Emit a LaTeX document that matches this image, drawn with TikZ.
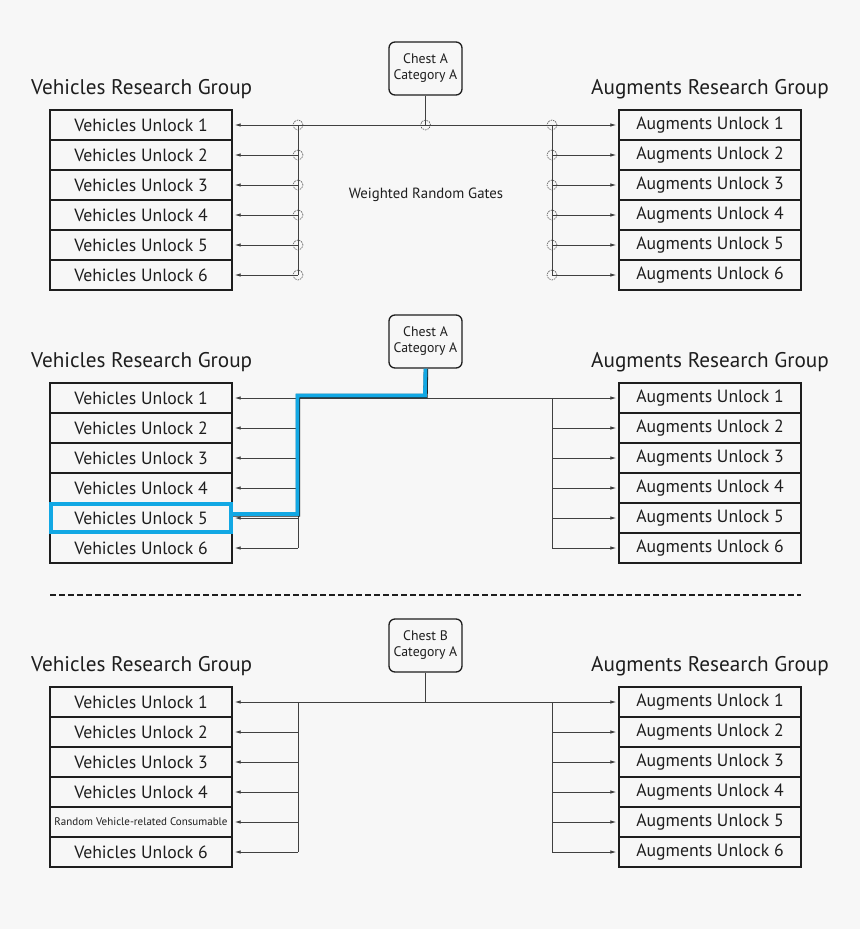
\documentclass[tikz,border=0pt]{standalone}
\usepackage{fontspec}
\setmainfont{PT Sans}
\usetikzlibrary{arrows.meta}
\definecolor{bg}{HTML}{F7F7F7}
\definecolor{ink}{HTML}{1E1E1E}
\definecolor{hl}{HTML}{12A8E4}
\tikzset{
  ubox/.style={draw=ink, line width=1.4pt, minimum width=182pt, minimum height=30pt, inner sep=0pt, text=ink, font=\fontsize{17.7}{19}\selectfont},
  gtitle/.style={font=\fontsize{21.2}{24}\selectfont, inner sep=0pt, text=ink},
  chestbox/.style={draw=ink, line width=1.3pt, rounded corners=6pt, minimum width=73pt, minimum height=53pt, inner sep=0pt, align=center, text=ink, font=\fontsize{13.8}{16}\selectfont},
  conn/.style={draw=ink!85, line width=0.8pt},
  arr/.style={conn, -{Latex[length=6pt,width=3.5pt]}, shorten >=2pt},
  gate/.style={circle, draw=ink!80, dashed, dash pattern=on 1.5pt off 1pt, line width=0.6pt, minimum size=10pt, inner sep=0pt},
  hlline/.style={draw=hl, line width=3.8pt},
}
\begin{document}
\begin{tikzpicture}[x=1pt,y=-1pt]
\fill[bg] (0,0) rectangle (860,929);
\useasboundingbox (0,0) rectangle (860,929);
\foreach \s/\oy/\ch in {1/0/A,2/273/A,3/577/B}{
  \node[gtitle, anchor=west] (VT\s) at (31,89.5+\oy) {Vehicles Research Group};
  \node[gtitle, anchor=east] (AT\s) at (829,89.5+\oy) {Augments Research Group};
  \node[chestbox] (C\s) at (425.5,68.5+\oy) {Chest \ch\\Category A};
  \foreach \i in {1,...,6}{
    \pgfmathsetmacro\yy{125+\oy+30*(\i-1)}
    \node[ubox] (V\s\i) at (141,\yy) {\ifnum\s=3 \ifnum\i=5 {\fontsize{11}{12}\selectfont Random Vehicle-related Consumable}\else Vehicles Unlock \i\fi\else Vehicles Unlock \i\fi};
    \node[ubox] (A\s\i) at (710,\yy) {Augments Unlock \i};
    \coordinate (LB\s\i) at (298,\yy);
    \coordinate (RB\s\i) at (552,\yy);
    \draw[arr] (LB\s\i) -- (V\s\i.east);
    \draw[arr] (RB\s\i) -- (A\s\i.west);
  }
  \draw[conn] (LB\s1) -- (LB\s6);
  \draw[conn] (RB\s1) -- (RB\s6);
  \draw[conn] (LB\s1) -- (RB\s1);
  \coordinate (CJ\s) at (425.5,125+\oy);
  \draw[conn] (C\s.south) -- (CJ\s);
}
% gates (top section)
\node[gate] (GC) at (CJ1) {};
\foreach \i in {1,...,6}{
  \node[gate] (GL\i) at (LB1\i) {};
  \node[gate] (GR\i) at (RB1\i) {};
}
\node[font=\fontsize{14.8}{16}\selectfont, text=ink] (WRG) at (426,195) {Weighted Random Gates};
% highlighted path (middle section)
\coordinate (HT) at (425,395.5);
\coordinate (HL) at (297.5,395.5);
\coordinate (HB) at (297.5,514);
\coordinate (HE) at (V25.east |- HB);
\draw[hlline, draw=ink, line width=4.4pt, transform canvas={shift={(0.5pt,-0.5pt)}}] (C2.south) -- (HT) -- (HL) -- (HB) -- (HE);
\draw[hlline] (C2.south) -- (HT) -- (HL) -- (HB) -- (HE);
\draw[draw=hl, line width=4.6pt] ([shift={(1.6pt,-1.6pt)}]V25.north west) rectangle ([shift={(-1.6pt,1.6pt)}]V25.south east);
% separator
\coordinate (DS) at (50,595);
\coordinate (DE) at (801,595);
\draw[draw=ink, line width=2pt, dash pattern=on 6pt off 3pt] (DS) -- (DE);
\end{tikzpicture}
\end{document}
